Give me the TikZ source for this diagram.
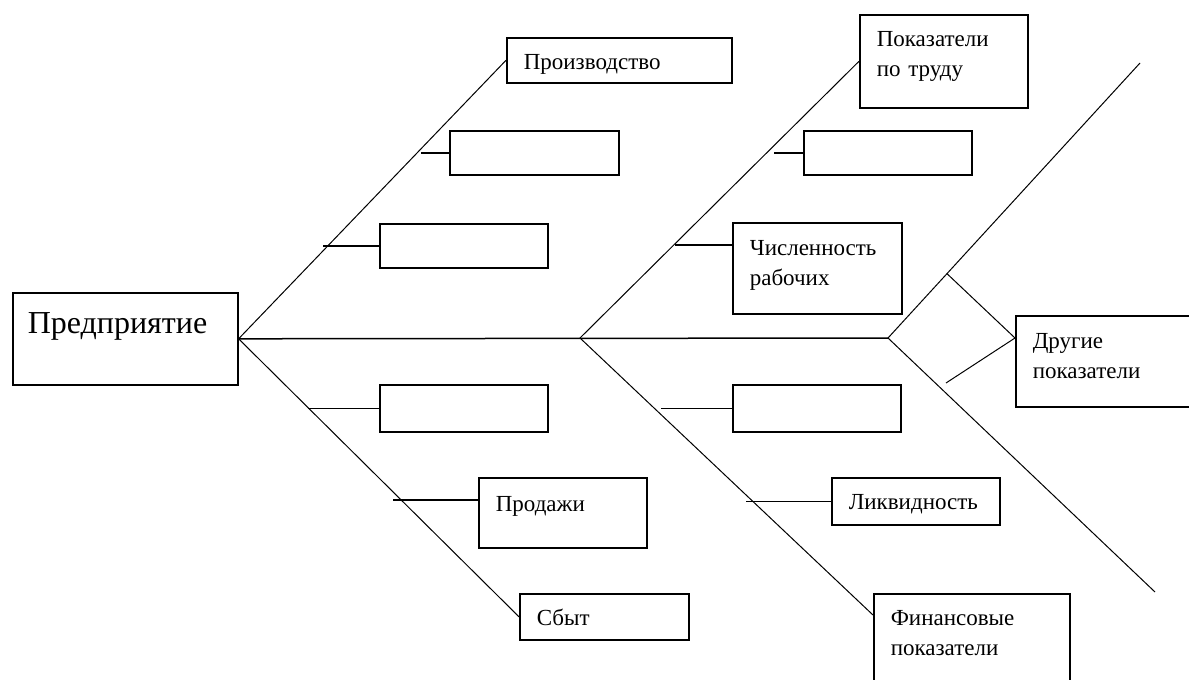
\documentclass[tikz,border=0pt]{standalone}
\usepackage{fontspec}
\setmainfont{Liberation Serif}
\usetikzlibrary{
	positioning,
	calc
}

\begin{document}
\begin{tikzpicture}[
		x=1pt, y=-1pt,
		framed/.style={draw, line width=1.6pt, anchor=north west, inner xsep=17pt, inner ysep=0pt, align=left, text height=32pt, font=\fontsize{23}{30}\selectfont},
		bone/.style={line width=1pt},
		stub/.style={line width=1.6pt}
	]
	\useasboundingbox (0,0) rectangle (1189,680);

	\node[framed, inner xsep=15pt, text width=195pt, text height=41pt, text depth=51pt, font=\fontsize{32}{38}\selectfont] at(12,292) (firm) {Предприятие};

	\node[framed, text width=191pt, text depth=13pt] at(506,37) (prod) {Производство};
	\node[framed, text width=135pt, text depth=12pt] at(449,130) (emptyA) {};
	\node[framed, text width=134pt, text depth=12pt] at(379,223) (emptyB) {};
	\node[framed, text width=134pt, text depth=15pt] at(379,384) (emptyC) {};
	\node[framed, text width=134pt, text height=34pt, text depth=36pt] at(478,477) (sales) {Продажи};
	\node[framed, text width=135pt, text depth=14pt] at(519,593) (supply) {Сбыт};

	\node[framed, text width=134pt, text depth=61pt] at(859,14) (labour) {Показатели\\по труду};
	\node[framed, text width=134pt, text depth=12pt] at(803,130) (emptyD) {};
	\node[framed, text width=135pt, text height=33pt, text depth=58pt] at(732,222) (staff) {Численность\\рабочих};
	\node[framed, text width=134pt, text depth=15pt] at(732,384) (emptyE) {};
	\node[framed, text width=134pt, text depth=15pt] at(831,477) (liquid) {Ликвидность};
	\node[framed, text width=162pt, text depth=68pt] at(873,593) (finance) {Финансовые\\показатели};

	\node[framed, text width=146pt, text height=33pt, text depth=58pt] at(1015,315) (other) {Другие\\показатели};

	\coordinate (j2) at (580,338);
	\coordinate (j3) at (888,338);
	\coordinate (t1) at (1140,63);
	\coordinate (t2) at (1155,592);
	\coordinate (d1) at ($(j3)!0.234!(t1)$);
	\coordinate (d2) at (946,383);

	\draw[line width=1.5pt] (firm.east) -- (j3);

	\begin{scope}[every path/.style={bone}]
		\draw (prod.west) -- (firm.east) -- (supply.west);
		\draw (labour.west) -- (j2) -- ([yshift=-22pt]finance.north west);
		\draw (t1) -- (j3) -- (t2);
		\draw (d1) -- ([yshift=-23pt]other.north west) -- (d2);
	\end{scope}

	\begin{scope}[every path/.style={stub}]
		\draw (emptyA.west) -- ++(-28,0);
		\draw (emptyB.west) -- ++(-56,0);
		\draw (emptyC.west) -- ++(-71,0);
		\draw ([yshift=-23pt]sales.north west) -- ++(-85,0);
		\draw (emptyD.west) -- ++(-29,0);
		\draw ([yshift=-23pt]staff.north west) -- ++(-57,0);
		\draw (emptyE.west) -- ++(-71,0);
		\draw (liquid.west) -- ++(-85,0);
	\end{scope}

\end{tikzpicture}
\end{document}
